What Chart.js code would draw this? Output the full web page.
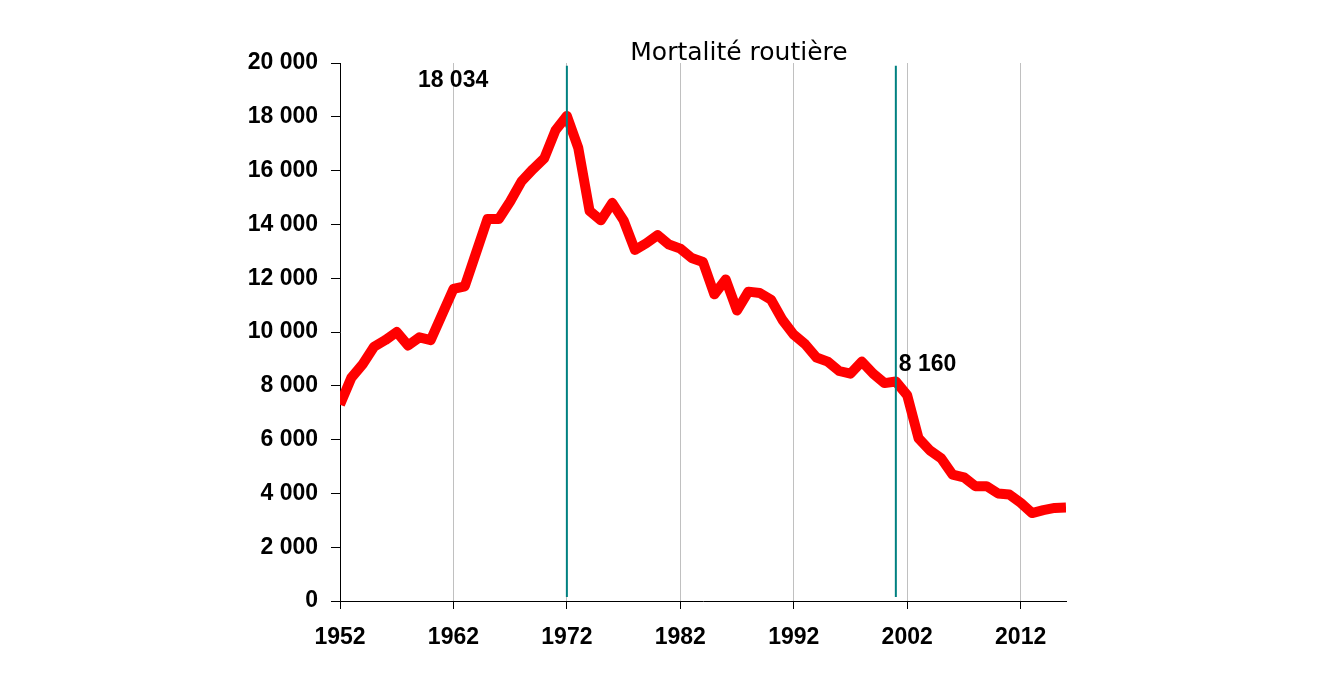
<!DOCTYPE html>
<html>
<head>
<meta charset="utf-8">
<script src="https://cdn.jsdelivr.net/npm/chart.js@4"></script>
<style>
  body { margin: 0; background: #fff; }
  #wrap { width: 1327px; height: 682px; }
</style>
</head>
<body>
<div id="wrap"><canvas id="myChart"></canvas></div>
<script>
// road deaths per year
const years = [
  1952, 1953, 1954, 1955, 1956, 1957, 1958, 1959, 1960, 1961,
  1962, 1963, 1964, 1965, 1966, 1967, 1968, 1969, 1970, 1971,
  1972, 1973, 1974, 1975, 1976, 1977, 1978, 1979, 1980, 1981,
  1982, 1983, 1984, 1985, 1986, 1987, 1988, 1989, 1990, 1991,
  1992, 1993, 1994, 1995, 1996, 1997, 1998, 1999, 2000, 2001,
  2002, 2003, 2004, 2005, 2006, 2007, 2008, 2009, 2010, 2011,
  2012, 2013, 2014, 2015, 2016
];
const deaths = [
  7300, 8300, 8800, 9450, 9700, 10000, 9500, 9800, 9700, 10650,
  11600, 11700, 12950, 14200, 14200, 14850, 15600, 16050, 16450, 17500,
  18034, 16850, 14500, 14150, 14800, 14150, 13050, 13300, 13600, 13250,
  13100, 12750, 12600, 11400, 11950, 10800, 11500, 11450, 11200, 10450,
  9900, 9550, 9050, 8900, 8550, 8450, 8900, 8450, 8100, 8160,
  7650, 6050, 5600, 5300, 4700, 4600, 4270, 4270, 4000, 3960,
  3650, 3270, 3380, 3460, 3480
];
const xTickYears = [1952, 1962, 1972, 1982, 1992, 2002, 2012];
const markerYears = [1972, 2001];
const markerRange = [150, 19900];
const markerValues = [18034, 8160];
const titleText = "Mortalité routière";

function fmt(v) {
  return String(v).replace(/\B(?=(\d{3})+(?!\d))/g, " ");
}

const lineData = years.map((y, i) => ({ x: y, y: deaths[i] }));

const markerSets = markerYears.map((yr) => ({
  data: markerRange.map((v) => ({ x: yr, y: v })),
  borderColor: "#008080",
  borderWidth: 2,
  pointRadius: 0,
  order: 0
}));

const tickFont = { family: "'Liberation Sans', Arial", size: 23, weight: "bold" };

// title + value labels
const textPlugin = {
  id: "texts",
  afterDraw(chart) {
    const { ctx, chartArea } = chart;
    const xs = chart.scales.x, ys = chart.scales.y;
    ctx.save();
    ctx.fillStyle = "#000";
    ctx.font = "25px 'DejaVu Sans'";
    ctx.textAlign = "center";
    ctx.textBaseline = "alphabetic";
    ctx.fillText(titleText, (chartArea.left + chartArea.right) / 2 + 36, 60);

    ctx.font = "bold 23px 'Liberation Sans', Arial";
    ctx.textAlign = "left";
    ctx.textBaseline = "middle";
    ctx.fillText(fmt(markerValues[0]), xs.getPixelForValue(markerYears[0]) - 149, ys.getPixelForValue(20000) + 18);
    ctx.fillText(fmt(markerValues[1]), xs.getPixelForValue(markerYears[1]) + 3, ys.getPixelForValue(markerValues[1]) - 17);
    ctx.restore();
  }
};

const ctx = document.getElementById("myChart").getContext("2d");
new Chart(ctx, {
  type: "line",
  data: {
    datasets: [
      ...markerSets,
      {
        data: lineData,
        borderColor: "#ff0000",
        borderWidth: 10,
        borderJoinStyle: "round",
        pointRadius: 0,
        tension: 0,
        order: 1
      }
    ]
  },
  options: {
    responsive: true,
    maintainAspectRatio: false,
    animation: false,
    layout: {
      padding: { left: 240, right: 261, top: 63, bottom: 0 }
    },
    plugins: {
      legend: { display: false },
      tooltip: { enabled: false }
    },
    scales: {
      x: {
        type: "linear",
        min: 1952,
        max: 2016,
        afterBuildTicks: (scale) => {
          scale.ticks = xTickYears.map((v) => ({ value: v }));
        },
        afterFit: (scale) => { scale.height = 81; },
        grid: {
          color: "#c0c0c0",
          lineWidth: 1,
          tickColor: "#000",
          tickLength: 8
        },
        border: { color: "#000", width: 1 },
        ticks: {
          color: "#000",
          padding: 15,
          maxRotation: 0,
          font: tickFont,
          callback: (v) => String(v)
        }
      },
      y: {
        min: 0,
        max: 20000,
        afterFit: (scale) => { scale.width = 100; },
        grid: {
          drawOnChartArea: false,
          tickColor: "#000",
          tickLength: 9
        },
        border: { color: "#000", width: 1 },
        ticks: {
          stepSize: 2000,
          color: "#000",
          padding: 13,
          font: tickFont,
          callback: (v) => fmt(v)
        }
      }
    }
  },
  plugins: [textPlugin]
});
</script>
</body>
</html>
